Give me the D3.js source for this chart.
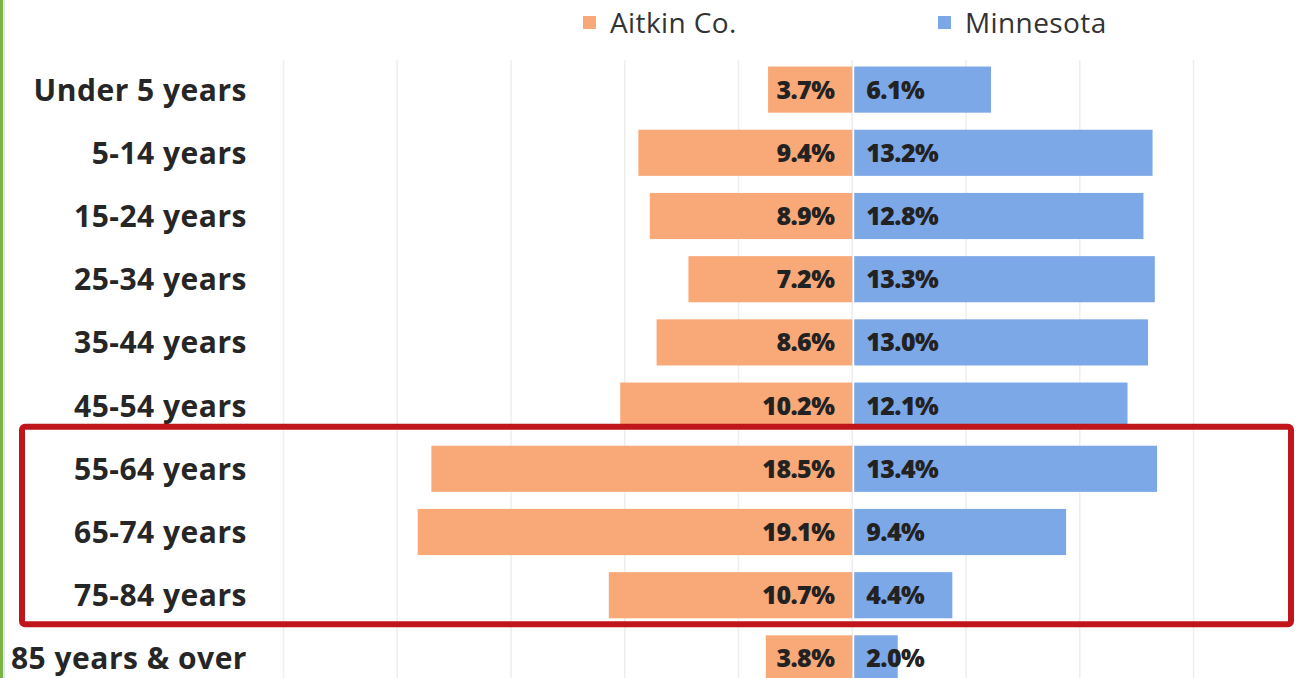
<!DOCTYPE html>
<html>
<head>
<meta charset="utf-8">
<script src="https://cdn.jsdelivr.net/npm/d3@7"></script>
<style>
  body { margin: 0; background: #fff; }
  svg { display: block; }
</style>
</head>
<body>
<div id="chart"></div>
<script>
// age groups, top to bottom
var ageGroups = ["Under 5 years", "5-14 years", "15-24 years", "25-34 years", "35-44 years",
                 "45-54 years", "55-64 years", "65-74 years", "75-84 years", "85 years & over"];
var aitkinValues = [3.7, 9.4, 8.9, 7.2, 8.6, 10.2, 18.5, 19.1, 10.7, 3.8];
var minnesotaValues = [6.1, 13.2, 12.8, 13.3, 13.0, 12.1, 13.4, 9.4, 4.4, 2.0];
var seriesNames = ["Aitkin Co.", "Minnesota"];
var gridTicks = [-25, -20, -15, -10, -5, 0, 5, 10, 15];
var highlighted = ["55-64 years", "65-74 years", "75-84 years"];

var width = 1301, height = 678;
var orange = "#f9a877", blue = "#7ca8e8";

var svg = d3.select("#chart").append("svg")
    .attr("width", width)
    .attr("height", height);

// share of population, aitkin drawn to the left of zero
var x = d3.scaleLinear().domain([-25, 15]).range([283.5, 1193.5]);
var y = d3.scaleBand().domain(ageGroups).range([58, 690]).paddingInner(0.27).paddingOuter(0.135);

// left edge strip
svg.append("rect").attr("x", 0).attr("y", 0).attr("width", 3).attr("height", height).attr("fill", "#7cb342");
svg.append("rect").attr("x", 3).attr("y", 0).attr("width", 2).attr("height", height).attr("fill", "#dce8f5");

svg.append("g").selectAll("line").data(gridTicks).enter().append("line")
    .attr("x1", function(d){ return x(d); })
    .attr("x2", function(d){ return x(d); })
    .attr("y1", 60)
    .attr("y2", height)
    .attr("stroke", "#eeeeee")
    .attr("stroke-width", 1.5);

var rows = ageGroups.map(function(a, i){
    return {age: a, aitkin: aitkinValues[i], mn: minnesotaValues[i]};
});

svg.append("g").selectAll("rect").data(rows).enter().append("rect")
    .attr("x", function(d){ return x(-d.aitkin); })
    .attr("y", function(d){ return y(d.age); })
    .attr("width", function(d){ return x(0) - x(-d.aitkin); })
    .attr("height", y.bandwidth())
    .attr("fill", orange);

svg.append("g").selectAll("rect").data(rows).enter().append("rect")
    .attr("x", x(0) + 2)
    .attr("y", function(d){ return y(d.age); })
    .attr("width", function(d){ return x(d.mn) - x(0) - 2; })
    .attr("height", y.bandwidth())
    .attr("fill", blue);

var valueFont = "'Open Sans', 'Noto Sans', sans-serif";

svg.append("g").selectAll("text").data(rows).enter().append("text")
    .attr("x", x(0) - 18)
    .attr("y", function(d){ return y(d.age) + y.bandwidth() / 2 + 9; })
    .attr("text-anchor", "end")
    .attr("font-family", valueFont)
    .attr("font-weight", "800")
    .attr("font-size", 25)
    .attr("letter-spacing", -0.6)
    .attr("fill", "#222")
    .text(function(d){ return d.aitkin.toFixed(1) + "%"; });

svg.append("g").selectAll("text").data(rows).enter().append("text")
    .attr("x", x(0) + 14)
    .attr("y", function(d){ return y(d.age) + y.bandwidth() / 2 + 9; })
    .attr("font-family", valueFont)
    .attr("font-weight", "800")
    .attr("font-size", 25)
    .attr("letter-spacing", -0.6)
    .attr("fill", "#222")
    .text(function(d){ return d.mn.toFixed(1) + "%"; });

// category labels
svg.append("g").selectAll("text").data(ageGroups).enter().append("text")
    .attr("x", 247)
    .attr("y", function(d){ return y(d) + y.bandwidth() / 2 + 11; })
    .attr("text-anchor", "end")
    .attr("font-family", "'Open Sans', 'Noto Sans', sans-serif")
    .attr("font-weight", "bold")
    .attr("font-size", 30)
    .attr("letter-spacing", 0.5)
    .attr("fill", "#262626")
    .text(function(d){ return d; });

// legend
var legendX = [583, 938];
var legend = svg.append("g").selectAll("g").data(seriesNames).enter().append("g")
    .attr("transform", function(d, i){ return "translate(" + legendX[i] + ",16)"; });
legend.append("rect")
    .attr("width", 13).attr("height", 13)
    .attr("fill", function(d, i){ return i == 0 ? orange : blue; });
legend.append("text")
    .attr("x", 27).attr("y", 17)
    .attr("font-family", "'Open Sans', 'Noto Sans', sans-serif")
    .attr("font-size", 28)
    .attr("letter-spacing", 0.4)
    .attr("fill", "#333")
    .text(function(d){ return d; });

// highlight box around the older age groups
var boxTop = y(highlighted[0]) - 19;
var boxBottom = y(highlighted[highlighted.length - 1]) + y.bandwidth() + 6;
svg.append("rect")
    .attr("x", 22).attr("y", boxTop)
    .attr("width", 1269).attr("height", boxBottom - boxTop)
    .attr("rx", 3)
    .attr("fill", "none")
    .attr("stroke", "#c0161b")
    .attr("stroke-width", 6);
</script>
</body>
</html>
